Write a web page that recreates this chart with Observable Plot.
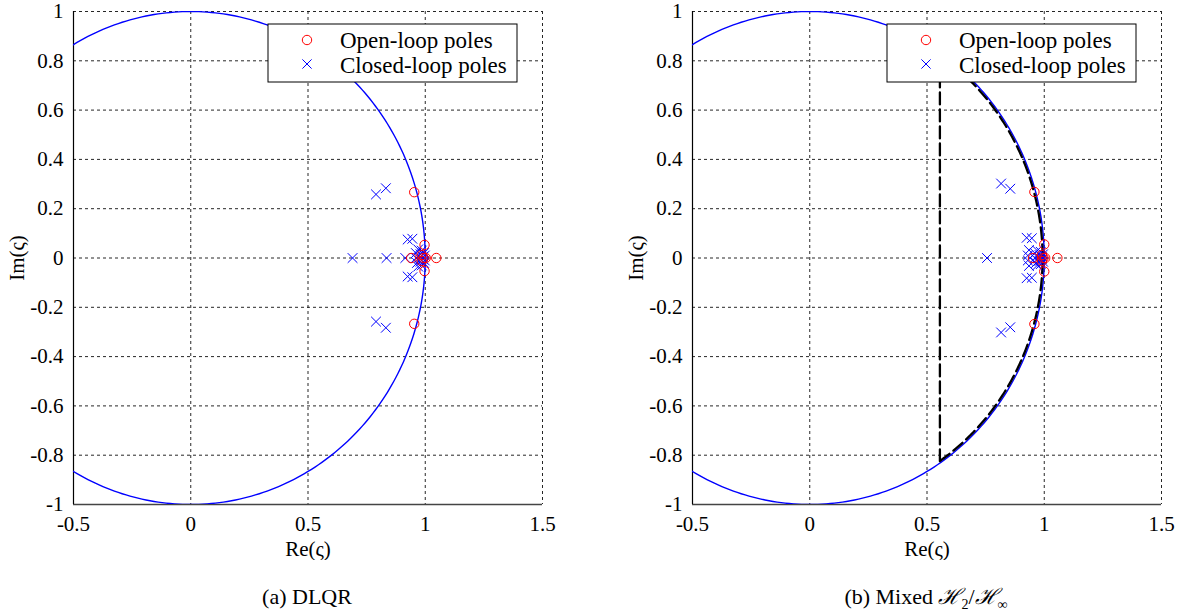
<!DOCTYPE html>
<html>
<head>
<meta charset="utf-8">
<script src="https://cdn.jsdelivr.net/npm/d3@7"></script>
<script src="https://cdn.jsdelivr.net/npm/@observablehq/plot@0.6"></script>
<style>
  html, body { margin: 0; padding: 0; background: #fff; }
  #wrap { display: flex; width: 1192px; height: 615px; }
  .panel { width: 596px; height: 615px; }
  .panel svg { display: block; }
  .cap { font-family: "Liberation Serif", "DejaVu Serif", serif; font-size: 22px; color: #000; height: 40px; line-height: 40px; margin-top: 17px; white-space: nowrap; text-align: center; }
  .cap sub { font-size: 14px; line-height: 0; }
  .cal { font-family: "DejaVu Serif", serif; font-style: italic; }
</style>
</head>
<body>
<div id="wrap">
  <div class="panel" id="p1"></div>
  <div class="panel" id="p2"></div>
</div>
<script>
// Tick values
const xTicks = [-0.5, 0, 0.5, 1, 1.5];
const yTicks = [-1, -0.8, -0.6, -0.4, -0.2, 0, 0.2, 0.4, 0.6, 0.8, 1];

// (a) DLQR
const dlqrOpenRe = [0.953, 0.953, 0.997, 0.997, 1.047, 0.940, 1.002, 0.985, 0.985, 0.993];
const dlqrOpenIm = [0.267, -0.267, 0.053, -0.053, 0, 0, 0, 0.012, -0.012, 0];
const dlqrClosedRe = [0.790, 0.832, 0.790, 0.832, 0.690, 0.835, 0.915, 0.925, 0.945, 0.925, 0.945,
  0.960, 0.965, 0.970, 0.970, 0.975, 0.980, 0.980, 0.985, 0.985, 0.990, 0.990, 0.995, 0.995, 0.998, 0.998, 0.960];
const dlqrClosedIm = [0.258, 0.283, -0.258, -0.283, 0, 0, 0, 0.075, 0.078, -0.075, -0.078,
  0.020, -0.020, 0.035, -0.035, 0, 0.015, -0.015, 0.030, -0.030, 0.005, -0.005, 0.020, -0.020, 0.010, -0.010, 0];

// (b) Mixed H2/Hinf
const mixOpenRe = [0.958, 0.958, 1.000, 1.000, 1.056, 0.952, 1.004, 0.990, 0.990, 0.996];
const mixOpenIm = [0.268, -0.268, 0.055, -0.055, 0, 0, 0, 0.012, -0.012, 0];
const mixClosedRe = [0.816, 0.855, 0.816, 0.855, 0.756, 0.925, 0.947, 0.925, 0.947, 0.935, 0.935, 0.930, 0.930,
  0.960, 0.965, 0.970, 0.970, 0.975, 0.980, 0.980, 0.985, 0.985, 0.990, 0.990, 0.995, 0.995, 0.960];
const mixClosedIm = [0.302, 0.281, -0.302, -0.281, 0, 0.082, 0.080, -0.082, -0.080, 0.032, -0.032, 0.010, -0.010,
  0.020, -0.020, 0.030, -0.030, 0, 0.012, -0.012, 0.025, -0.025, 0.005, -0.005, 0.015, -0.015, 0];

// LMI region of panel (b): disk of this radius intersected with Re > shift
const regionRadius = 0.993;
const regionShift = 0.555;

const legendLabels = ["Open-loop poles", "Closed-loop poles"];
const captions = ["(a) DLQR", "(b) Mixed <span class=\"cal\">ℋ</span><sub>2</sub>/<span class=\"cal\">ℋ</span><sub>∞</sub>"];

const zip = (re, im) => re.map((r, i) => ({re: r, im: im[i]}));

// unit circle geometry
const unitCircle = d3.range(0, 361).map(a => ({re: Math.cos(a * Math.PI / 180), im: Math.sin(a * Math.PI / 180)}));
function regionBoundary(r, s) {
  const t0 = Math.acos(s / r);
  const pts = d3.range(0, 201).map(i => {
    const t = -t0 + (2 * t0) * i / 200;
    return {re: r * Math.cos(t), im: r * Math.sin(t)};
  });
  pts.push(pts[0]);
  return pts;
}

const fmt = d => String(d);
const FONT = "'Liberation Serif', 'DejaVu Serif', serif";

function makePanel(open, closed, region, mLeft, mRight) {
  const marks = [
    Plot.gridX(xTicks, {stroke: "#000", strokeOpacity: 0.85, strokeDasharray: "3,3"}),
    Plot.gridY(yTicks, {stroke: "#000", strokeOpacity: 0.85, strokeDasharray: "3,3"}),
    Plot.axisX({ticks: xTicks, tickFormat: fmt, tickSize: 0, tickPadding: 12, label: "Re(ς)", labelAnchor: "center", labelOffset: 51, labelArrow: "none"}),
    Plot.axisY({ticks: yTicks, tickFormat: fmt, tickSize: 0, tickPadding: 10, label: "Im(ς)", labelAnchor: "center", labelOffset: 64, labelArrow: "none"}),
    Plot.ruleY([-1], {stroke: "#444", strokeWidth: 1.5}),
    Plot.ruleX([-0.5], {stroke: "#000", strokeWidth: 1.2}),
    Plot.line(unitCircle, {x: "re", y: "im", stroke: "#0000ff", strokeWidth: 1.4, clip: true})
  ];
  if (region) {
    marks.push(Plot.line(region, {x: "re", y: "im", stroke: "#000", strokeWidth: 2.3, strokeDasharray: "12,5", clip: true}));
  }
  marks.push(
    Plot.dot(closed, {x: "re", y: "im", symbol: "times", r: 4.5, stroke: "#0000ff", strokeWidth: 1}),
    Plot.dot(open, {x: "re", y: "im", symbol: "circle", r: 4.7, stroke: "#ff0000", strokeWidth: 1, fill: "none"})
  );
  const svg = Plot.plot({
    width: 596, height: 560,
    marginLeft: mLeft, marginRight: mRight, marginTop: 11, marginBottom: 56,
    style: {fontFamily: FONT, fontSize: "21px", color: "#000", background: "#fff"},
    x: {domain: [-0.5, 1.5]},
    y: {domain: [-1, 1]},
    marks
  });
  // legend
  const xr = 596 - mRight - 25, w = 249, x0 = xr - w, y0 = 24, h = 58;
  const g = d3.select(svg).append("g").attr("font-family", FONT).attr("font-size", 23).attr("text-anchor", "start");
  g.append("rect").attr("x", x0).attr("y", y0).attr("width", w).attr("height", h)
    .attr("fill", "#fff").attr("stroke", "#000").attr("stroke-width", 1);
  g.append("circle").attr("cx", x0 + 39).attr("cy", y0 + 16).attr("r", 4.7)
    .attr("fill", "none").attr("stroke", "#ff0000");
  const s = 4.6;
  g.append("path").attr("d", `M${x0 + 39 - s},${y0 + 40 - s}L${x0 + 39 + s},${y0 + 40 + s}M${x0 + 39 - s},${y0 + 40 + s}L${x0 + 39 + s},${y0 + 40 - s}`)
    .attr("stroke", "#0000ff").attr("fill", "none");
  legendLabels.forEach((t, i) => {
    g.append("text").attr("x", x0 + 72).attr("y", y0 + 16 + i * 25).attr("dy", "0.35em")
      .attr("text-anchor", "start").attr("fill", "#000").text(t);
  });
  return svg;
}

const panels = [
  {id: "p1", svg: makePanel(zip(dlqrOpenRe, dlqrOpenIm), zip(dlqrClosedRe, dlqrClosedIm), null, 73, 54), center: 307},
  {id: "p2", svg: makePanel(zip(mixOpenRe, mixOpenIm), zip(mixClosedRe, mixClosedIm), regionBoundary(regionRadius, regionShift), 96, 31), center: 330}
];
panels.forEach((p, i) => {
  const el = document.getElementById(p.id);
  el.appendChild(p.svg);
  const cap = document.createElement("div");
  cap.className = "cap";
  cap.style.width = (2 * p.center) + "px";
  cap.innerHTML = captions[i];
  el.appendChild(cap);
});
</script>
</body>
</html>
